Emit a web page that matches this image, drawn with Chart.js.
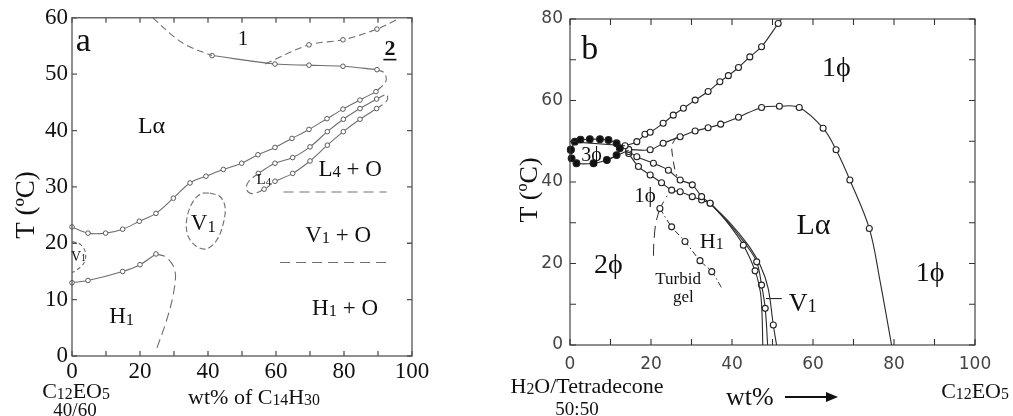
<!DOCTYPE html>
<html>
<head>
<meta charset="utf-8">
<script src="https://cdn.jsdelivr.net/npm/chart.js@4.4.1/dist/chart.umd.min.js"></script>
<style>
  body { margin: 0; background: #fff; width: 1013px; height: 416px; position: relative; overflow: hidden; }
  #chartA { position: absolute; left: 0; top: 0; }
  #chartB { position: absolute; left: 500px; top: 0; }
</style>
</head>
<body>
<canvas id="chartA" width="440" height="416"></canvas>
<canvas id="chartB" width="513" height="416"></canvas>
<script>
'use strict';

// ---------- panel a : C12EO5 (40/60) vs wt% of C14H30 ----------
const aTickLabelsX = [0, 20, 40, 60, 80, 100];
const aTickLabelsY = [0, 10, 20, 30, 40, 50, 60];

const aTopDashed = [[23.8, 60], [29.7, 56.8], [33.8, 55.1], [41.2, 53.3]];
const aLalphaTop = [[41.2, 53.3], [59.7, 51.8], [69.7, 51.6], [79.7, 51.4], [89.7, 50.8]];
const aLalphaBend = [[89.7, 50.8], [91.9, 50.2], [92.3, 48.7], [89.4, 46.9]];
const aLalphaBottom = [[0, 22.9], [4.7, 21.8], [9.9, 21.8], [14.9, 22.5], [19.8, 23.9], [24.7, 25.3],
  [29.8, 28.0], [34.7, 30.7], [39.4, 31.9], [44.5, 33.1], [49.9, 34.2], [54.7, 35.7], [59.7, 37.0],
  [64.7, 38.6], [69.7, 40.2], [75.0, 42.1], [79.7, 43.8], [84.7, 45.4], [89.4, 46.9]];
const aCurve2 = [[56.8, 51.8], [69.7, 55.2], [79.7, 56.1], [89.7, 58.0], [95.6, 59.7]];
const aL4Upper = [[54.8, 32.4], [59.7, 34.2], [64.9, 35.2], [70.0, 37.1], [75.1, 39.8], [79.8, 42.0], [84.7, 43.9], [89.6, 45.6]];
const aL4Lower = [[59.7, 31.0], [64.9, 32.4], [70.0, 34.6], [75.1, 37.4], [79.8, 39.8], [84.7, 42.0], [89.6, 43.9]];
const aL4Tip = [[89.6, 43.9], [92.5, 45.2], [92.6, 46.4], [89.6, 45.6]];
const aL4Curl = [[54.8, 32.4], [52.0, 31.0], [51.3, 29.6], [53.0, 28.8], [56.5, 29.6], [59.7, 31.0]];
const aV1Loop = [[40.5, 28.9], [43.5, 28.3], [45.0, 26.5], [44.5, 23.5], [42.5, 20.5], [39.5, 19.0],
  [36.5, 19.5], [34.0, 21.5], [33.8, 24.5], [35.5, 27.3], [38.0, 28.8], [40.5, 28.9]];
const aV1Small = [[0, 20.3], [2.5, 19.8], [4.0, 18.3], [3.5, 16.5], [1.5, 15.3], [0, 14.8]];
const aH1Top = [[0, 13.0], [4.7, 13.4], [14.9, 15.0], [20.0, 16.2], [24.7, 18.1]];
const aH1Dashed = [[24.7, 18.1], [27.8, 17.5], [30.3, 15.1], [29.8, 11.0], [27.8, 6.3], [24.9, 1.3]];
const aL4OilLine = [[62.2, 29.1], [92.5, 29.1]];
const aV1OilLine = [[61.2, 16.6], [93.5, 16.6]];

// ---------- panel b : H2O/Tetradecone (50:50) vs C12EO5 ----------
const bTickLabelsX = [0, 20, 40, 60, 80, 100];
const bTickLabelsY = [0, 20, 40, 60, 80];

const b3Phase = [[0.2, 47.9], [1.2, 49.9], [2.6, 50.4], [4.9, 50.5], [7.4, 50.5], [9.5, 50.3], [11.5, 49.5],
  [12.3, 48.3], [11.5, 46.6], [9.1, 45.4], [5.8, 44.6], [1.6, 44.6], [0.4, 45.8], [0.2, 47.9]];
const b3PhaseTie = [[0, 49.9], [13.6, 48.9]];
const b3PhaseTie2 = [[9.1, 45.4], [14.5, 47.8]];
const bUpper = [[13.6, 48.9], [16.5, 49.9], [18.5, 51.7], [19.8, 52.2], [23.0, 54.4], [25.5, 56.4],
  [28.0, 58.1], [30.9, 60.1], [34.1, 62.2], [37.0, 64.6], [39.1, 66.1], [41.6, 68.1], [44.4, 70.7],
  [47.3, 73.2], [51.4, 78.9], [52.2, 80]];
const bLalpha = [[14.5, 48.0], [19.8, 47.9], [23.0, 49.5], [27.2, 51.1], [30.9, 52.5], [34.1, 53.3],
  [37.2, 54.2], [41.6, 55.9], [47.3, 58.3], [51.7, 58.6], [56.6, 58.3], [62.5, 53.2], [65.7, 47.9],
  [69.1, 40.5], [73.9, 28.6], [76.5, 16.0], [79.4, 0]];
const bH1Upper = [[14.5, 47.5], [16.5, 46.2], [20.6, 44.6], [24.3, 42.9], [27.2, 40.5], [30.2, 39.3], [32.5, 36.4], [34.6, 34.8]];
const bH1Lower = [[14.5, 47.0], [16.9, 43.8], [19.8, 41.7], [22.6, 39.8], [25.1, 38.0], [27.2, 37.6], [30.2, 36.4], [32.5, 35.6], [34.6, 34.8]];
const bInner = [[34.6, 34.8], [38.5, 30.5], [42.8, 24.5], [45.7, 18.2], [47.0, 13.0], [47.4, 8.0], [47.6, 0]];
const bMiddle = [[34.6, 34.8], [39.0, 30.2], [43.3, 24.8], [46.1, 20.4], [47.3, 14.7], [48.2, 9.0], [48.8, 0]];
const bOuter = [[34.6, 34.8], [39.5, 30.0], [44.0, 24.5], [47.0, 19.5], [48.9, 14.0], [50.2, 4.9], [51.0, 0]];
const bTurbid = [[22.2, 33.5], [25.1, 29.0], [28.4, 25.4], [32.1, 20.7], [35.0, 18.0], [37.5, 13.9]];
const bTurbidUp = [[22.2, 33.5], [23.2, 35.3], [24.0, 36.6]];
const bTurbidLeft = [[22.2, 33.5], [21.2, 30.0], [20.7, 25.0], [20.6, 21.0]];
const bLalphaDashed = [[26.3, 51.1], [25.2, 49.0], [25.3, 46.5], [25.9, 43.0], [26.4, 41.5]];
const bV1Pointer = [[48.4, 11.4], [52.3, 11.4]];

const SERIF = '"Liberation Serif", "DejaVu Serif", serif';
const SANS = '"DejaVu Sans", "Liberation Sans", sans-serif';

function curve(pts, style, extra) {
  return Object.assign({
    data: pts.map(([x, y]) => ({ x, y })),
    showLine: true,
    tension: 0.35,
    clip: false
  }, style, extra || {});
}

// marker only on chosen points (markIdx), otherwise every vertex
function markRadius(r) {
  return ctx => {
    const idx = ctx.dataset.markIdx;
    if (!idx) return r;
    return idx.includes(ctx.dataIndex) ? r : 0;
  };
}

// text with {small} parts for the subscript-like digits
function drawRich(ctx, spec, px, py) {
  const size = spec.size;
  const fam = spec.family || SERIF;
  const weight = spec.bold ? 'bold ' : '';
  const parts = [];
  spec.t.split(/(\{[^}]*\})/).forEach(s => {
    if (!s) return;
    if (s[0] === '{') parts.push({ s: s.slice(1, -1), f: size * 0.72, dy: size * 0.05 });
    else parts.push({ s, f: size, dy: 0 });
  });
  let w = 0;
  parts.forEach(p => {
    ctx.font = weight + p.f + 'px ' + fam;
    p.w = ctx.measureText(p.s).width;
    w += p.w;
  });
  ctx.save();
  ctx.translate(px, py);
  if (spec.rot) ctx.rotate(spec.rot * Math.PI / 180);
  let cx = spec.align === 'left' ? 0 : -w / 2;
  const base = size * 0.35;
  ctx.fillStyle = spec.color || '#111';
  ctx.textAlign = 'left';
  ctx.textBaseline = 'alphabetic';
  parts.forEach(p => {
    ctx.font = weight + p.f + 'px ' + fam;
    ctx.fillText(p.s, cx, base + p.dy);
    cx += p.w;
  });
  if (spec.underline) ctx.fillRect(-w / 2 - 1, base + 4, w + 2, 1.6);
  ctx.restore();
}

// frame, inward ticks, region labels and captions
const panelText = {
  id: 'panelText',
  afterDraw(chart, args, opts) {
    const ctx = chart.ctx;
    const xs = chart.scales.x;
    const ys = chart.scales.y;
    const a = chart.chartArea;
    ctx.save();
    ctx.strokeStyle = opts.frameColor;
    ctx.lineWidth = opts.frameWidth;
    ctx.strokeRect(a.left, a.top, a.right - a.left, a.bottom - a.top);
    ctx.beginPath();
    for (let v = xs.min; v <= xs.max; v += opts.tickStep) {
      const p = xs.getPixelForValue(v);
      ctx.moveTo(p, a.bottom); ctx.lineTo(p, a.bottom - opts.tickLen);
      ctx.moveTo(p, a.top); ctx.lineTo(p, a.top + opts.tickLen);
    }
    for (let v = ys.min; v <= ys.max; v += opts.tickStep) {
      const p = ys.getPixelForValue(v);
      ctx.moveTo(a.left, p); ctx.lineTo(a.left + opts.tickLen, p);
      ctx.moveTo(a.right, p); ctx.lineTo(a.right - opts.tickLen, p);
    }
    ctx.stroke();
    opts.labels.forEach(l => {
      const px = l.cx !== undefined ? l.cx : xs.getPixelForValue(l.x);
      const py = l.cy !== undefined ? l.cy : ys.getPixelForValue(l.y);
      drawRich(ctx, l, px, py);
    });
    (opts.arrows || []).forEach(ar => {
      ctx.strokeStyle = '#111';
      ctx.fillStyle = '#111';
      ctx.lineWidth = 2;
      ctx.beginPath();
      ctx.moveTo(ar.x1, ar.y); ctx.lineTo(ar.x2 - 8, ar.y);
      ctx.stroke();
      ctx.beginPath();
      ctx.moveTo(ar.x2, ar.y); ctx.lineTo(ar.x2 - 12, ar.y - 5); ctx.lineTo(ar.x2 - 12, ar.y + 5);
      ctx.closePath(); ctx.fill();
    });
    ctx.restore();
  }
};

function axisOpts(min, max, labels, fit, font, color, padding) {
  return {
    type: 'linear', min, max,
    afterFit: fit,
    grid: { display: false, drawTicks: false },
    border: { display: false },
    ticks: {
      stepSize: 10, autoSkip: false, maxRotation: 0, padding,
      font, color,
      callback: v => labels.includes(v) ? String(v) : ''
    }
  };
}

// ---------- panel a chart ----------
const aSolid = { borderColor: '#6e6e6e', borderWidth: 1.1, pointRadius: markRadius(2.3),
  pointBorderColor: '#5a5a5a', pointBackgroundColor: '#fff', pointBorderWidth: 1 };
const aDash = Object.assign({}, aSolid, { borderDash: [7, 4], pointRadius: markRadius(0) });
const aDashMarked = Object.assign({}, aSolid, { borderDash: [7, 4] });

new Chart(document.getElementById('chartA').getContext('2d'), {
  type: 'scatter',
  data: {
    datasets: [
      curve(aTopDashed, aDash),
      curve(aLalphaTop, aSolid),
      curve(aLalphaBend, aDash),
      curve(aLalphaBottom, aSolid),
      curve(aCurve2, aDashMarked, { markIdx: [1, 2, 3] }),
      curve(aL4Upper, aSolid),
      curve(aL4Lower, aSolid),
      curve(aL4Tip, aDash),
      curve(aL4Curl, aDashMarked, { markIdx: [4] }),
      curve(aV1Loop, aDash, { borderDash: [6, 3] }),
      curve(aV1Small, aDash, { borderDash: [4, 3] }),
      curve(aH1Top, aSolid),
      curve(aH1Dashed, aDash, { borderDash: [9, 5] }),
      curve(aL4OilLine, aDash, { borderDash: [10, 6], tension: 0 }),
      curve(aV1OilLine, aDash, { borderDash: [10, 6], tension: 0 })
    ]
  },
  options: {
    responsive: false,
    animation: false,
    layout: { padding: { left: 0, top: 15, right: 28, bottom: 0 } },
    scales: {
      x: axisOpts(0, 100, aTickLabelsX, s => { s.height = 60; }, { family: 'Liberation Serif', size: 23 }, '#111', 2),
      y: axisOpts(0, 60, aTickLabelsY, s => { s.width = 72; }, { family: 'Liberation Serif', size: 23 }, '#111', 4)
    },
    plugins: {
      legend: { display: false },
      tooltip: { enabled: false },
      panelText: {
        frameColor: '#555', frameWidth: 1.3, tickStep: 10, tickLen: 5,
        labels: [
          { t: 'a', x: 3.3, y: 56.2, size: 34 },
          { t: '1', x: 50.3, y: 56.5, size: 21 },
          { t: '2', x: 93.5, y: 54.8, size: 22, bold: true, underline: true },
          { t: 'Lα', x: 23.4, y: 41.1, size: 24 },
          { t: 'L{4} + O', x: 81.8, y: 33.3, size: 23 },
          { t: 'L{4}', x: 56.4, y: 31.4, size: 15 },
          { t: 'V{1}', x: 38.6, y: 23.7, size: 23 },
          { t: 'V{1}', x: 1.9, y: 17.8, size: 14 },
          { t: 'V{1} + O', x: 78.3, y: 21.6, size: 23 },
          { t: 'H{1} + O', x: 80.3, y: 8.7, size: 23 },
          { t: 'H{1}', x: 14.6, y: 7.2, size: 23 },
          { t: 'T (ºC)', cx: 25, cy: 205, size: 27, rot: -90 },
          { t: 'C{12}EO{5}', cx: 76, cy: 390, size: 22 },
          { t: '40/60', cx: 75, cy: 409, size: 19 },
          { t: 'wt% of C{14}H{30}', cx: 254, cy: 396, size: 22 }
        ]
      }
    }
  },
  plugins: [panelText]
});

// ---------- panel b chart ----------
const bSolid = { borderColor: '#2a2a2a', borderWidth: 1.1, pointRadius: markRadius(3),
  pointBorderColor: '#222', pointBackgroundColor: '#fff', pointBorderWidth: 1.1 };
const bDash = Object.assign({}, bSolid, { borderDash: [8, 5], borderWidth: 1, pointRadius: markRadius(0) });

new Chart(document.getElementById('chartB').getContext('2d'), {
  type: 'scatter',
  data: {
    datasets: [
      curve(b3Phase, bSolid, { pointBackgroundColor: '#111', pointRadius: 3.4, tension: 0.2 }),
      curve(b3PhaseTie, bSolid, { pointRadius: 0, tension: 0 }),
      curve(b3PhaseTie2, bSolid, { pointRadius: 0, tension: 0 }),
      curve(bUpper, bSolid, { markIdx: [0, 1, 2, 3, 4, 5, 6, 7, 8, 9, 10, 11, 12, 13, 14] }),
      curve(bLalpha, bSolid, { markIdx: [0, 1, 2, 3, 4, 5, 6, 7, 8, 9, 10, 11, 12, 13, 14] }),
      curve(bH1Upper, bSolid),
      curve(bH1Lower, bSolid),
      curve(bInner, bSolid, { markIdx: [2, 3] }),
      curve(bMiddle, bSolid, { markIdx: [3, 4, 5] }),
      curve(bOuter, bSolid, { markIdx: [5] }),
      curve(bTurbid, bDash, { borderDash: [6, 3, 1.5, 3], pointRadius: markRadius(3), markIdx: [0, 1, 2, 3, 4] }),
      curve(bTurbidUp, bDash),
      curve(bTurbidLeft, bDash, { borderDash: [12, 6] }),
      curve(bLalphaDashed, bDash),
      curve(bV1Pointer, bSolid, { pointRadius: 0, tension: 0 })
    ]
  },
  options: {
    responsive: false,
    animation: false,
    layout: { padding: { left: 0, top: 19, right: 38, bottom: 0 } },
    scales: {
      x: axisOpts(0, 100, bTickLabelsX, s => { s.height = 71; }, { family: 'DejaVu Sans', size: 17 }, '#444', 9),
      y: axisOpts(0, 80, bTickLabelsY, s => { s.width = 70; }, { family: 'DejaVu Sans', size: 17 }, '#444', 7)
    },
    plugins: {
      legend: { display: false },
      tooltip: { enabled: false },
      panelText: {
        frameColor: '#333', frameWidth: 1.1, tickStep: 10, tickLen: 6,
        labels: [
          { t: 'b', x: 4.9, y: 73.2, size: 34 },
          { t: '1ϕ', x: 65.8, y: 68.3, size: 28 },
          { t: 'Lα', x: 60.1, y: 29.9, size: 30 },
          { t: '1ϕ', x: 88.9, y: 18.0, size: 28 },
          { t: '2ϕ', x: 9.5, y: 20.0, size: 28 },
          { t: 'H{1}', x: 35.0, y: 25.8, size: 22 },
          { t: 'Turbid', x: 26.7, y: 16.4, size: 17 },
          { t: 'gel', x: 28.0, y: 11.9, size: 17 },
          { t: '1ϕ', x: 18.5, y: 36.8, size: 21 },
          { t: '3ϕ', x: 5.3, y: 46.9, size: 20 },
          { t: 'V{1}', x: 57.5, y: 10.6, size: 26 },
          { t: 'T (ºC)', cx: 28, cy: 190, size: 26, rot: -90 },
          { t: 'H{2}O/Tetradecone', cx: 87, cy: 385, size: 22 },
          { t: '50:50', cx: 77, cy: 408, size: 19 },
          { t: 'wt%', cx: 226, cy: 396, size: 26, align: 'left' },
          { t: 'C{12}EO{5}', cx: 475, cy: 390, size: 22 }
        ],
        arrows: [{ x1: 285, x2: 338, y: 397 }]
      }
    }
  },
  plugins: [panelText]
});
</script>
</body>
</html>
